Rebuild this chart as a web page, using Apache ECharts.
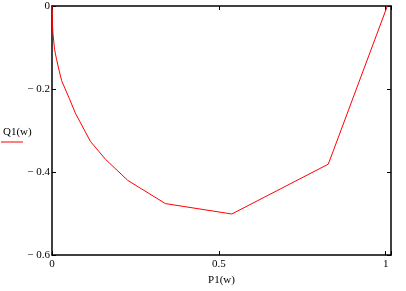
<!DOCTYPE html>
<html>
<head>
<meta charset="utf-8">
<script src="https://cdn.jsdelivr.net/npm/echarts@6/dist/echarts.min.js"></script>
<style>
html,body{margin:0;padding:0;background:#fff;}
#c{width:406px;height:291px;}
</style>
</head>
<body>
<div id="c"></div>
<script>
// P1(w) values (x) and Q1(w) values (y)
var P1 = [0, 0.001, 0.0024, 0.0075, 0.0135, 0.0215, 0.029, 0.033, 0.052, 0.070, 0.115, 0.160, 0.227, 0.340, 0.539, 0.828, 0.843, 1.005];
var Q1 = [0, -0.033, -0.062, -0.104, -0.128, -0.156, -0.180, -0.183, -0.223, -0.258, -0.326, -0.369, -0.420, -0.476, -0.501, -0.381, -0.349, 0];
var xTicks = [0, 0.5, 1];
var yTicks = [0, -0.2, -0.4, -0.6];
var xName = 'P1(w)';
var yName = 'Q1(w)';

var data = P1.map(function (x, i) { return [x, Q1[i]]; });
var FONT = '"Liberation Serif", "DejaVu Serif", serif';

function fmtX(v) {
  for (var i = 0; i < xTicks.length; i++) if (Math.abs(v - xTicks[i]) < 1e-9) return String(xTicks[i]);
  return '';
}
function fmtY(v) {
  for (var i = 0; i < yTicks.length; i++) {
    if (Math.abs(v - yTicks[i]) < 1e-9) {
      var t = yTicks[i];
      return t < 0 ? '\u2212 ' + String(Math.abs(t)) : String(t);
    }
  }
  return '';
}

var axisLine = { show: true, onZero: false, lineStyle: { color: '#000', width: 1.5 } };
var tick = { show: true, inside: true, length: 4, lineStyle: { color: '#000', width: 1 } };

var chart = echarts.init(document.getElementById('c'), null, { renderer: 'canvas' });
chart.setOption({
  animation: false,
  backgroundColor: '#fff',
  grid: { left: 52, right: 15, top: 6, bottom: 32, containLabel: false },
  xAxis: [{
    type: 'value', position: 'bottom', min: 0, max: 1.016, interval: 0.5,
    axisLine: axisLine, axisTick: tick, splitLine: { show: false },
    axisLabel: { formatter: fmtX, color: '#000', fontFamily: FONT, fontSize: 11, margin: 4 },
    name: xName, nameLocation: 'middle', nameGap: 19,
    nameTextStyle: { color: '#000', fontFamily: FONT, fontSize: 11 }
  }, {
    type: 'value', position: 'top', min: 0, max: 1.016, interval: 0.5,
    axisLine: axisLine, axisTick: tick, splitLine: { show: false },
    axisLabel: { show: false }
  }],
  yAxis: [{
    type: 'value', position: 'left', min: -0.6, max: 0, interval: 0.2,
    axisLine: axisLine, axisTick: tick, splitLine: { show: false },
    axisLabel: { formatter: fmtY, color: '#000', fontFamily: FONT, fontSize: 11, margin: 2 }
  }, {
    type: 'value', position: 'right', min: -0.6, max: 0, interval: 0.2,
    axisLine: axisLine, axisTick: tick, splitLine: { show: false },
    axisLabel: { show: false }
  }],
  graphic: [
    { type: 'text', left: 3, top: 127, style: { text: yName, fill: '#000', font: '11px ' + FONT } },
    { type: 'line', shape: { x1: 1, y1: 142, x2: 23, y2: 142 }, style: { stroke: '#ff0000', lineWidth: 1 } }
  ],
  series: [{
    type: 'line', xAxisIndex: 0, yAxisIndex: 0, data: data,
    showSymbol: false, symbol: 'none',
    lineStyle: { color: '#ff0000', width: 1 }, itemStyle: { color: '#ff0000' }
  }]
});
</script>
</body>
</html>
